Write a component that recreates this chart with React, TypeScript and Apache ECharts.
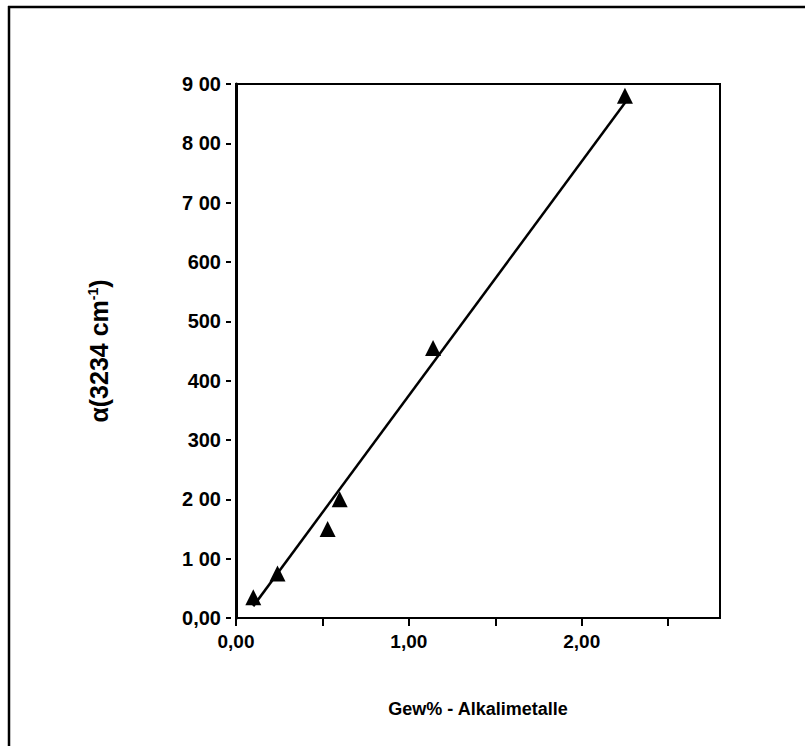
import React, { useEffect, useRef } from "react";
import * as echarts from "echarts";

const pointX = [0.1, 0.24, 0.53, 0.6, 1.14, 2.25];
const pointY = [35, 75, 150, 200, 455, 880];
const fitX = [0.1, 2.26];
const fitY = [20, 872];
const xTickValues = [0, 0.5, 1, 1.5, 2, 2.5];
const xLabelValues = [0, 1, 2];
const xLabelTexts = ["0,00", "1,00", "2,00"];
const yTickLabels = ["0,00", "1 00", "2 00", "300", "400", "500", "600", "7 00", "8 00", "9 00"];

const FONT = "'Liberation Sans', Arial, sans-serif";

export default function App() {
  const ref = useRef<HTMLDivElement>(null);
  useEffect(() => {
    if (!ref.current) return;
    const chart = echarts.init(ref.current, null, { renderer: "svg" });
    const points = pointX.map((x, i) => [x, pointY[i]]);
    const fit = fitX.map((x, i) => [x, fitY[i]]);
    chart.setOption({
      animation: false,
      backgroundColor: "#ffffff",
      grid: {
        left: 236,
        top: 84,
        width: 484,
        height: 534,
        show: true,
        borderColor: "#000",
        borderWidth: 2,
        backgroundColor: "transparent",
      },
      graphic: [
        { type: "line", shape: { x1: 9, y1: 6, x2: 9, y2: 746 }, style: { stroke: "#000", lineWidth: 2.5 } },
        { type: "line", shape: { x1: 8, y1: 7, x2: 805, y2: 7 }, style: { stroke: "#000", lineWidth: 2.5 } },
      ],
      xAxis: {
        type: "value",
        min: 0,
        max: 2.8,
        interval: 0.5,
        splitLine: { show: false },
        axisLine: { show: true, lineStyle: { color: "#000", width: 2 } },
        axisTick: {
          show: true,
          length: 8,
          lineStyle: { color: "#000", width: 2 },
          customValues: xTickValues,
        },
        axisLabel: {
          customValues: xLabelValues,
          formatter: (v: number) => {
            const idx = xLabelValues.indexOf(Math.round(v * 100) / 100);
            return idx >= 0 ? xLabelTexts[idx] : "";
          },
          color: "#000",
          fontFamily: FONT,
          fontWeight: "bold",
          fontSize: 19,
          margin: 14,
        },
        name: "Gew% - Alkalimetalle",
        nameLocation: "middle",
        nameGap: 82,
        nameTextStyle: { color: "#000", fontFamily: FONT, fontWeight: "bold", fontSize: 18 },
      },
      yAxis: [
        {
          type: "value",
          min: 0,
          max: 900,
          interval: 100,
          position: "left",
          splitLine: { show: false },
          axisLine: { show: true, lineStyle: { color: "#000", width: 3 } },
          axisTick: { show: false },
          axisLabel: { show: false },
          name: "α(3234 cm{sup|-1})",
          nameLocation: "middle",
          nameGap: 124,
          nameTextStyle: {
            color: "#000",
            fontFamily: FONT,
            fontWeight: "bold",
            fontSize: 25,
            rich: {
              sup: {
                fontFamily: FONT,
                fontWeight: "bold",
                fontSize: 14,
                color: "#000",
                verticalAlign: "top",
                padding: [0, 0, 12, 0],
              },
            },
          },
        },
        {
          type: "value",
          min: 0,
          max: 900,
          interval: 100,
          position: "left",
          offset: 5,
          splitLine: { show: false },
          axisLine: { show: false },
          axisTick: { show: true, length: 5, lineStyle: { color: "#000", width: 2 } },
          axisLabel: {
            formatter: (v: number) => yTickLabels[Math.round(v / 100)] ?? "",
            color: "#000",
            fontFamily: FONT,
            fontWeight: "bold",
            fontSize: 20,
            margin: 10,
          },
        },
      ],
      series: [
        {
          type: "line",
          data: fit,
          symbol: "none",
          lineStyle: { color: "#000", width: 2.5 },
          yAxisIndex: 0,
          silent: true,
        },
        {
          type: "scatter",
          data: points,
          symbol: "triangle",
          symbolSize: 16,
          itemStyle: { color: "#000", opacity: 1 },
          yAxisIndex: 0,
        },
      ],
    });
    return () => chart.dispose();
  }, []);
  return (
    <div
      ref={ref}
      style={{ position: "absolute", left: 0, top: 0, width: 805, height: 746, background: "#fff" }}
    />
  );
}
